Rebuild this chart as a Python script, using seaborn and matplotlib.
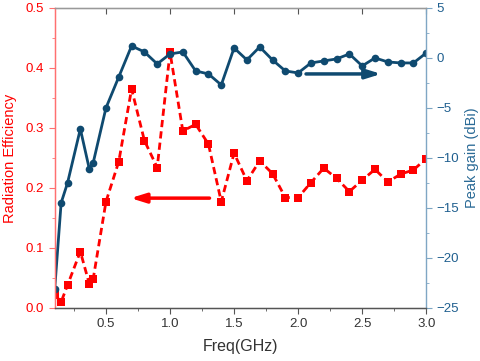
import matplotlib
matplotlib.use("Agg")
import matplotlib.pyplot as plt
from matplotlib.ticker import MultipleLocator
import seaborn as sns
import pandas as pd

# data
freq_eff = [0.1, 0.15, 0.2, 0.3, 0.37, 0.4, 0.5, 0.6, 0.7, 0.8, 0.9, 1.0, 1.1, 1.2, 1.3, 1.4,
            1.5, 1.6, 1.7, 1.8, 1.9, 2.0, 2.1, 2.2, 2.3, 2.4, 2.5, 2.6, 2.7, 2.8, 2.9, 3.0]
efficiency = [0.022, 0.010, 0.038, 0.094, 0.040, 0.048, 0.177, 0.244, 0.365, 0.279, 0.234, 0.426,
              0.295, 0.306, 0.273, 0.177, 0.258, 0.212, 0.245, 0.224, 0.184, 0.184, 0.209, 0.233,
              0.216, 0.194, 0.213, 0.231, 0.210, 0.223, 0.230, 0.249]
freq_gain = freq_eff
peak_gain = [-23.1, -14.5, -12.5, -7.1, -11.1, -10.5, -5.0, -1.9, 1.2, 0.6, -0.6, 0.4,
             0.6, -1.3, -1.6, -2.7, 1.0, -0.2, 1.1, -0.2, -1.3, -1.5, -0.5, -0.3,
             -0.1, 0.4, -0.8, 0.0, -0.4, -0.5, -0.5, 0.5]

RED = "#ff0000"
BLUE = "#0f4a70"

sns.set_style("white")
plt.rcParams["font.family"] = ["Liberation Sans", "DejaVu Sans"]

df_eff = pd.DataFrame({"freq": freq_eff, "eff": efficiency})
df_gain = pd.DataFrame({"freq": freq_gain, "gain": peak_gain})

fig = plt.figure(figsize=(4.8, 3.61), dpi=100)
ax = fig.add_axes([0.114, 0.147, 0.774, 0.831])
ax2 = ax.twinx()

sns.lineplot(data=df_eff, x="freq", y="eff", ax=ax, color=RED, lw=2,
             marker="s", markersize=5.5, markeredgewidth=0)
ax.lines[0].set_linestyle((0, (2.6, 1.5)))
sns.lineplot(data=df_gain, x="freq", y="gain", ax=ax2, color=BLUE, lw=2,
             marker="o", markersize=5.5, markeredgewidth=0)

ax.set_xlim(0.1, 3.0)
ax.set_ylim(0, 0.5)
ax2.set_ylim(-25, 5)

ax.xaxis.set_major_locator(MultipleLocator(0.5))
ax.xaxis.set_minor_locator(MultipleLocator(0.25))
ax.yaxis.set_major_locator(MultipleLocator(0.1))
ax.yaxis.set_minor_locator(MultipleLocator(0.05))
ax2.yaxis.set_major_locator(MultipleLocator(5))
ax2.yaxis.set_minor_locator(MultipleLocator(2.5))

ax.set_xlabel("Freq(GHz)", fontsize=11.5, color="#333333", labelpad=6)
ax.set_ylabel("Radiation Efficiency", fontsize=10.5, color=RED, labelpad=6)
ax2.set_ylabel("Peak gain (dBi)", fontsize=10.5, color="#2a6a96", labelpad=4)

ax.tick_params(axis="x", which="both", bottom=True, direction="out", colors="#555555",
               labelcolor="#333333", labelsize=9.5)
ax.tick_params(axis="x", which="major", length=4)
ax.tick_params(axis="x", which="minor", length=2.5)
ax.tick_params(axis="y", which="both", left=True, direction="out", colors="#ff7070",
               labelcolor=RED, labelsize=9.5)
ax.tick_params(axis="y", which="major", length=4)
ax.tick_params(axis="y", which="minor", length=2.5)
ax2.tick_params(axis="y", which="both", right=True, direction="out", colors="#7fa6c4",
                labelcolor="#1f5f8f", labelsize=9.5)
ax2.tick_params(axis="y", which="major", length=4)
ax2.tick_params(axis="y", which="minor", length=2.5)

# top ticks (inward, majors only)
top = ax.secondary_xaxis("top")
top.xaxis.set_major_locator(MultipleLocator(0.5))
top.tick_params(direction="in", length=4, colors="#555555", labeltop=False)
top.spines["top"].set_visible(False)

ax.spines["left"].set_color("#ff7070")
ax2.spines["left"].set_color("#ff7070")
ax2.spines["right"].set_color("#7fa6c4")
ax2.spines["top"].set_color("#999999")
ax2.spines["bottom"].set_color("#555555")
ax.spines["right"].set_visible(False)
for s in ax2.spines.values():
    s.set_linewidth(1.0)

# direction arrows
ax.annotate("", xy=(0.67, 0.183), xytext=(1.33, 0.183),
            arrowprops=dict(arrowstyle="-|>,head_length=0.9,head_width=0.28", color=RED, lw=2.5))
ax2.annotate("", xy=(2.67, -1.6), xytext=(2.04, -1.6),
             arrowprops=dict(arrowstyle="-|>,head_length=0.9,head_width=0.28", color=BLUE, lw=2.5))

fig.savefig("out.png", dpi=100)
